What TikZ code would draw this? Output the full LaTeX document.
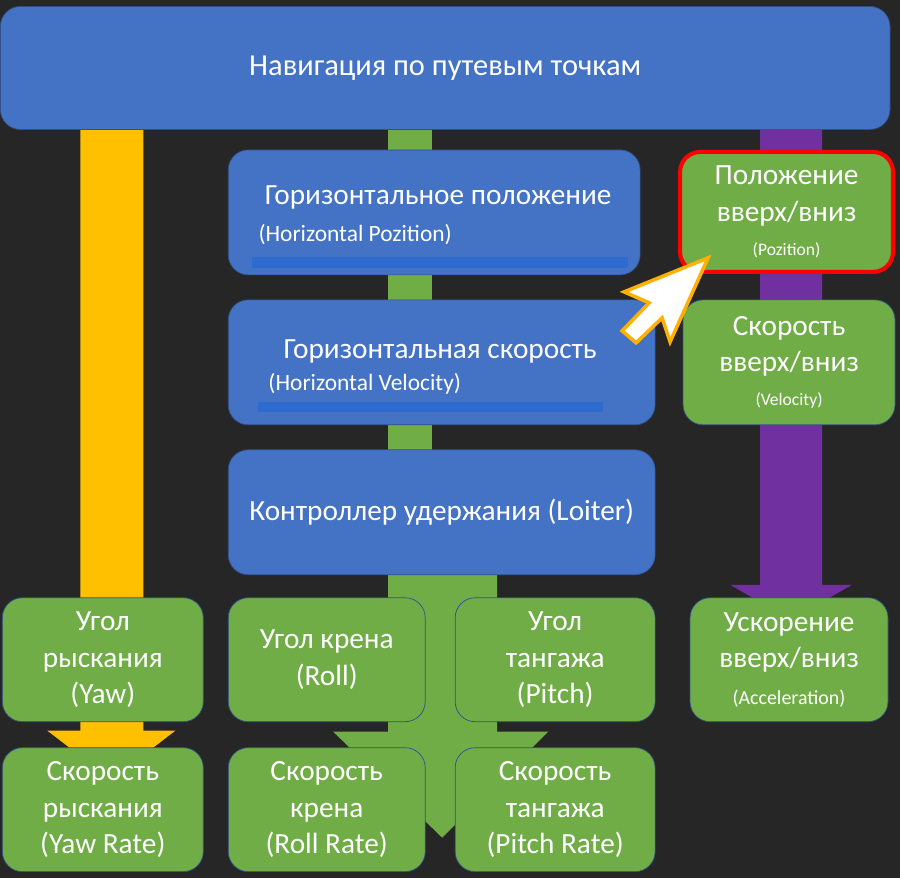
\documentclass[tikz,border=0pt]{standalone}
\usepackage{fontspec}
\setmainfont{Carlito}
\usepackage{xcolor}
\usetikzlibrary{positioning}

\definecolor{bgdark}{HTML}{262626}
\definecolor{boxblue}{HTML}{4472C4}
\definecolor{boxgreen}{HTML}{70AD47}
\definecolor{lineblue}{HTML}{2E6BD0}
\definecolor{barYellow}{HTML}{FFC000}
\definecolor{barPurple}{HTML}{7030A0}
\definecolor{cursorEdge}{HTML}{FFB000}

\begin{document}
\begin{tikzpicture}[
    x=0.03cm, y=-0.03cm,
    box/.style={rectangle, draw=boxblue!70!black, line width=0.6pt, rounded corners=0.6cm, text=white, align=center, inner sep=0pt},
    bluebox/.style={box, fill=boxblue},
    greenbox/.style={box, fill=boxgreen, minimum height=3.72cm, font=\fontsize{25}{31}\selectfont},
    txt/.style={text=white, inner sep=0pt, align=center}
]

% Background
\fill[bgdark] (0,0) rectangle (900,878);

% Bars behind the boxes
\fill[barYellow] (80,128) -- (143,128) -- (143,731) -- (175,731) -- (111,780) -- (47,731) -- (80,731) -- cycle;
\fill[barPurple] (760,128) -- (822,128) -- (822,585) -- (852,585) -- (791,620) -- (730,585) -- (760,585) -- cycle;
\fill[boxgreen] (388,128) rectangle (432,460);
\fill[boxgreen] (388,565) -- (497,565) -- (497,732) -- (548,732) -- (442,838) -- (333,732) -- (388,732) -- cycle;

% Top
\node[bluebox, minimum width=26.7cm, minimum height=3.69cm, font=\fontsize{26}{31}\selectfont] (nav) at (445,68) {Навигация по путевым точкам};

% Horizontal chain
\node[bluebox, minimum width=12.36cm, minimum height=3.75cm] (hpos) at (434,212.5) {};
\fill[lineblue] (252,257) rectangle (628,268);
\node[txt, font=\fontsize{25}{30}\selectfont] (hposA) at (438,198) {Горизонтальное положение};
\node[txt, anchor=west, font=\fontsize{20}{24}\selectfont] (hposB) at (258,235) {(Horizontal Pozition)};

\node[bluebox, minimum width=12.81cm, minimum height=3.75cm] (hvel) at (441.5,362.5) {};
\fill[lineblue] (258,402) rectangle (603,412);
\node[txt, font=\fontsize{25}{30}\selectfont] (hvelA) at (440,352) {Горизонтальная скорость};
\node[txt, anchor=west, font=\fontsize{20}{24}\selectfont] (hvelB) at (268,384) {(Horizontal Velocity)};

\node[bluebox, minimum width=12.81cm, minimum height=3.75cm, font=\fontsize{25}{30}\selectfont] (loiter) at (441.5,512.5) {Контроллер удержания (Loiter)};

% Vertical chain
\node[greenbox, minimum width=6.39cm, minimum height=3.6cm, draw=red, line width=3.5pt] (zpos) at (786.5,212) {Положение\\вверх/вниз\\[-2pt]{\fontsize{15}{18}\selectfont(Pozition)}};
\node[greenbox, minimum width=6.36cm, minimum height=3.75cm] (zvel) at (789,362.5) {Скорость\\вверх/вниз\\[-2pt]{\fontsize{15}{18}\selectfont(Velocity)}};
\node[greenbox, minimum width=5.94cm] (zacc) at (789,660) {Ускорение\\вверх/вниз\\{\fontsize{17}{20}\selectfont(Acceleration)}};

% Angles
\node[greenbox, minimum width=6.03cm] (yaw) at (102.5,660) {Угол\\рыскания\\(Yaw)};
\node[greenbox, minimum width=5.91cm] (roll) at (326.5,660) {Угол крена\\(Roll)};
\node[greenbox, minimum width=6.0cm] (pitch) at (555,660) {Угол\\тангажа\\(Pitch)};

% Rates
\node[greenbox, minimum width=6.03cm] (yawrate) at (102.5,810) {Скорость\\рыскания\\(Yaw Rate)};
\node[greenbox, minimum width=5.91cm] (rollrate) at (326.5,810) {Скорость\\крена\\(Roll Rate)};
\node[greenbox, minimum width=6.0cm] (pitchrate) at (555,810) {Скорость\\тангажа\\(Pitch Rate)};

% Pointer
\filldraw[fill=white, draw=cursorEdge, line width=3pt, line join=miter]
  (708,258) -- (670,342) -- (662,318) -- (636,343) -- (622,331) -- (649,303) -- (624,292) -- cycle;

\end{tikzpicture}
\end{document}
